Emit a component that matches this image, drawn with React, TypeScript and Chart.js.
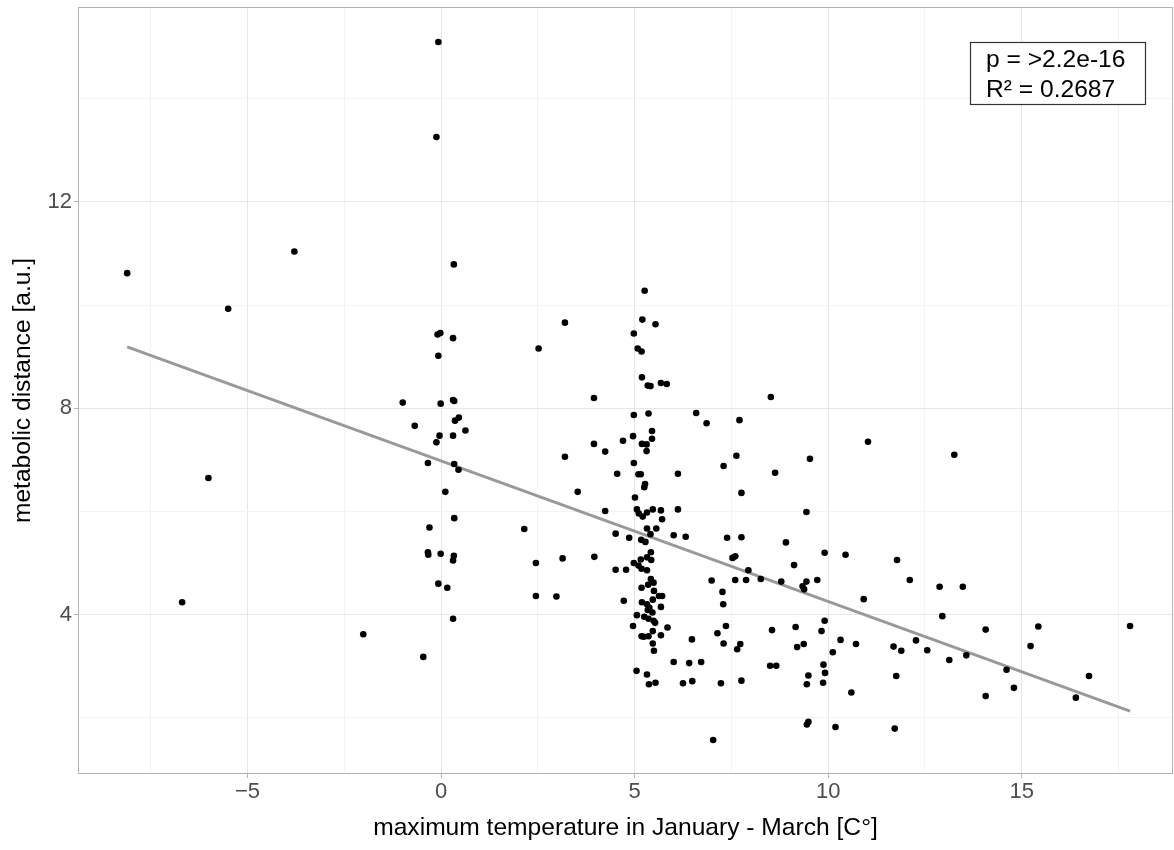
import React, { useEffect, useRef } from 'react';
import { Chart, registerables } from 'chart.js';

Chart.register(...registerables);

// [maximum temperature Jan-Mar (°C), metabolic distance (a.u.)]
const coldSites: number[][] = [
  [-8.11, 10.62], [-6.69, 4.24], [-6.01, 6.65], [-5.5, 9.93], [-3.79, 11.04], [-2.01, 3.62],
];

const zeroSites: number[][] = [
  [-0.07, 15.1], [-0.12, 13.26], [0.33, 10.79], [-0.09, 9.43], [-0.02, 9.46], [0.31, 9.36],
  [-0.07, 9.02], [-0.99, 8.11], [-0.01, 8.09], [0.31, 8.16], [0.34, 8.14], [0.46, 7.82],
  [0.36, 7.76], [-0.68, 7.66], [0.63, 7.57], [-0.04, 7.47], [0.31, 7.47], [-0.12, 7.34],
  [-0.34, 6.94], [0.34, 6.92], [0.45, 6.81], [0.11, 6.38], [0.34, 5.87], [-0.3, 5.69],
  [-0.34, 5.21], [-0.33, 5.16], [-0.01, 5.18], [0.33, 5.14], [0.31, 5.05], [-0.07, 4.6],
  [0.16, 4.52], [0.31, 3.92], [-0.46, 3.18],
];

const mildSites: number[][] = [
  [2.52, 9.16], [3.2, 9.66], [3.95, 8.2], [3.95, 7.31], [3.2, 7.06], [4.24, 7.16],
  [3.53, 6.38], [4.24, 6.01], [2.15, 5.66], [2.45, 5.0], [3.14, 5.09], [3.96, 5.12],
  [2.45, 4.36], [2.98, 4.35], [4.55, 6.73], [4.7, 7.37],
];

const fiveDegreeSites: number[][] = [
  [4.98, 9.45], [5.2, 9.72], [5.26, 10.28], [5.54, 9.63], [5.08, 9.16], [5.18, 9.1],
  [5.19, 8.6], [5.34, 8.44], [5.41, 8.43], [5.68, 8.49], [5.83, 8.47],
  [4.98, 7.87], [5.36, 7.9], [5.45, 7.56], [5.45, 7.41], [4.96, 7.46], [5.19, 7.31],
  [5.31, 7.3], [5.31, 7.17], [4.98, 6.94], [5.1, 6.72], [5.16, 6.72], [5.27, 6.53],
  [5.25, 6.47], [5.01, 6.27], [5.06, 6.04], [5.11, 5.96], [5.21, 5.9], [5.32, 5.98],
  [5.47, 6.04], [5.68, 6.02], [5.71, 5.85], [5.32, 5.67], [5.56, 5.67], [4.51, 5.57],
  [4.86, 5.49], [5.41, 5.56], [5.17, 5.45], [5.28, 5.41], [5.42, 5.21], [5.32, 5.11],
  [5.43, 5.06], [5.16, 5.07], [4.98, 5.0], [5.1, 4.95], [5.18, 4.89], [5.32, 4.86],
  [4.51, 4.87], [4.78, 4.87], [5.42, 4.69], [5.49, 4.62], [5.35, 4.58], [5.18, 4.52],
  [5.5, 4.46], [5.63, 4.36], [5.71, 4.36], [5.47, 4.29], [4.72, 4.27], [5.19, 4.24],
  [5.32, 4.2], [5.68, 4.15], [5.38, 4.13], [5.34, 4.09], [5.46, 4.04], [5.06, 3.99],
  [5.25, 3.96], [5.36, 3.92], [5.49, 3.88], [5.53, 3.84], [4.96, 3.78], [5.85, 3.75],
  [5.47, 3.68], [5.18, 3.58], [5.24, 3.57], [5.36, 3.58], [5.68, 3.6], [5.47, 3.44],
  [5.5, 3.3], [5.05, 2.91], [5.32, 2.84], [5.37, 2.65], [5.54, 2.68],
];

const warmSites: number[][] = [
  [6.59, 7.91], [6.86, 7.71], [7.71, 7.77], [8.52, 8.22], [7.63, 7.08], [7.3, 6.88],
  [6.12, 6.73], [8.63, 6.75], [7.76, 6.36], [6.12, 6.04], [6.01, 5.54], [6.32, 5.51],
  [7.39, 5.49], [7.76, 5.5], [7.53, 5.1], [7.6, 5.13], [7.94, 4.86], [6.99, 4.66],
  [7.6, 4.67], [7.88, 4.67], [8.26, 4.69], [7.27, 4.44], [7.29, 4.2], [7.36, 3.78],
  [7.14, 3.64], [8.55, 3.7], [6.48, 3.52], [7.3, 3.44], [7.73, 3.43], [7.65, 3.33],
  [6.01, 3.08], [6.41, 3.06], [6.72, 3.08], [8.5, 3.01], [8.66, 3.01], [6.25, 2.67],
  [6.49, 2.71], [7.23, 2.67], [7.76, 2.72], [7.03, 1.57],
];

const hotSites: number[][] = [
  [11.03, 7.35], [9.53, 7.02], [9.44, 5.99], [8.91, 5.4], [9.91, 5.2], [10.45, 5.16],
  [11.78, 5.06], [9.12, 4.96], [8.79, 4.64], [9.44, 4.64], [9.72, 4.67], [9.34, 4.55],
  [9.38, 4.49], [12.11, 4.67], [10.92, 4.3], [9.91, 3.88], [9.16, 3.76], [9.83, 3.68],
  [9.2, 3.37], [9.37, 3.43], [10.32, 3.51], [10.72, 3.43], [10.12, 3.27], [11.69, 3.38],
  [11.89, 3.3], [12.27, 3.5], [9.88, 3.03], [9.92, 2.87], [9.49, 2.82], [9.45, 2.65],
  [9.87, 2.68], [11.76, 2.81], [10.6, 2.49], [9.45, 1.87], [9.49, 1.92], [10.19, 1.82],
  [11.72, 1.79],
];

const hottestSites: number[][] = [
  [13.26, 7.1], [12.88, 4.54], [13.48, 4.54], [12.95, 3.97], [14.07, 3.71], [15.43, 3.77],
  [17.8, 3.78], [12.56, 3.31], [13.13, 3.12], [13.57, 3.21], [15.23, 3.39], [14.61, 2.93],
  [14.8, 2.58], [14.07, 2.42], [16.74, 2.81], [16.4, 2.39],
];

const fitTemperature = [-8.11, 17.8];
const fitDistance = [9.19, 2.13];

const xTickValues = [-7.5, -5, -2.5, 0, 2.5, 5, 7.5, 10, 12.5, 15, 17.5];
const yTickValues = [2, 4, 6, 8, 10, 12, 14];
const xRange = [-9.38, 18.91];
const yRange = [0.91, 15.78];

const statLines = ['p = >2.2e-16', 'R\u00B2 = 0.2687'];
const xTitle = 'maximum temperature in January - March [C\u00B0]';
const yTitle = 'metabolic distance [a.u.]';

const FONT = '"Liberation Sans", Arial, Helvetica, sans-serif';

const framePlugin = {
  id: 'frameAndStats',
  afterDatasetsDraw(chart: any) {
    const { ctx, chartArea: a } = chart;
    ctx.save();
    ctx.strokeStyle = '#B3B3B3';
    ctx.lineWidth = 1;
    ctx.strokeRect(a.left + 0.5, a.top + 0.5, a.right - a.left - 1, a.bottom - a.top - 1);

    const bx = a.right - 203;
    const by = a.top + 35;
    ctx.fillStyle = '#FFFFFF';
    ctx.fillRect(bx, by, 175, 62);
    ctx.strokeStyle = '#333333';
    ctx.lineWidth = 1.2;
    ctx.strokeRect(bx + 0.5, by + 0.5, 175, 62);
    ctx.fillStyle = '#000000';
    ctx.font = `24.6px ${FONT}`;
    ctx.textBaseline = 'alphabetic';
    ctx.textAlign = 'left';
    statLines.forEach((line, i) => {
      ctx.fillText(line, bx + 16, by + 25 + i * 30);
    });
    ctx.restore();
  },
};

const toPoints = (rows: number[][]) => rows.map(([x, y]) => ({ x, y }));

export default function App() {
  const canvasRef = useRef<HTMLCanvasElement | null>(null);

  useEffect(() => {
    document.body.style.margin = '0';
    const canvas = canvasRef.current;
    if (!canvas) return;

    const allPoints = [
      ...toPoints(coldSites),
      ...toPoints(zeroSites),
      ...toPoints(mildSites),
      ...toPoints(fiveDegreeSites),
      ...toPoints(warmSites),
      ...toPoints(hotSites),
      ...toPoints(hottestSites),
    ];
    const fitPoints = fitTemperature.map((x, i) => ({ x, y: fitDistance[i] }));

    const chart = new Chart(canvas, {
      type: 'scatter',
      data: {
        datasets: [
          {
            type: 'scatter',
            data: allPoints,
            pointRadius: 3.3,
            pointHoverRadius: 3.3,
            backgroundColor: '#000000',
            borderWidth: 0,
            order: 0,
          },
          {
            type: 'line',
            data: fitPoints,
            showLine: true,
            pointRadius: 0,
            borderColor: '#999999',
            borderWidth: 3,
            fill: false,
            order: 1,
          } as any,
        ],
      },
      options: {
        animation: false,
        responsive: true,
        maintainAspectRatio: false,
        layout: { autoPadding: false, padding: { top: 7, right: 1, left: 0, bottom: 0 } },
        plugins: {
          legend: { display: false },
          tooltip: { enabled: false },
        },
        scales: {
          x: {
            type: 'linear',
            min: xRange[0],
            max: xRange[1],
            afterBuildTicks: (scale: any) => {
              scale.ticks = xTickValues.map((v) => ({ value: v }));
            },
            afterFit: (scale: any) => {
              scale.height = 76;
              scale.paddingLeft = 0;
              scale.paddingRight = 0;
            },
            grid: {
              color: (c: any) => (c.tick && c.tick.value % 5 === 0 ? '#E6E6E6' : '#F3F3F3'),
              tickColor: (c: any) => (c.tick && c.tick.value % 5 === 0 ? '#B3B3B3' : 'rgba(0,0,0,0)'),
              lineWidth: 1,
              tickLength: 4,
              drawTicks: true,
            },
            border: { display: false },
            ticks: {
              autoSkip: false,
              maxRotation: 0,
              padding: 1,
              color: '#4D4D4D',
              font: { size: 22, family: FONT },
              callback: (value: any) => {
                const v = Number(value);
                if (v % 5 !== 0) return '';
                return v < 0 ? '\u2212' + Math.abs(v) : String(v);
              },
            },
            title: {
              display: true,
              text: xTitle,
              color: '#000000',
              font: { size: 24.6, family: FONT },
              padding: { top: 0, bottom: 7 },
            },
          },
          y: {
            type: 'linear',
            min: yRange[0],
            max: yRange[1],
            afterBuildTicks: (scale: any) => {
              scale.ticks = yTickValues.map((v) => ({ value: v }));
            },
            afterFit: (scale: any) => {
              scale.width = 78;
              scale.paddingTop = 0;
              scale.paddingBottom = 0;
            },
            grid: {
              color: (c: any) => (c.tick && c.tick.value % 4 === 0 ? '#E6E6E6' : '#F3F3F3'),
              tickColor: (c: any) => (c.tick && c.tick.value % 4 === 0 ? '#B3B3B3' : 'rgba(0,0,0,0)'),
              lineWidth: 1,
              tickLength: 4,
              drawTicks: true,
            },
            border: { display: false },
            ticks: {
              autoSkip: false,
              padding: 2,
              color: '#4D4D4D',
              font: { size: 22, family: FONT },
              callback: (value: any) => {
                const v = Number(value);
                return v % 4 === 0 ? String(v) : '';
              },
            },
            title: {
              display: true,
              text: yTitle,
              color: '#000000',
              font: { size: 24.6, family: FONT },
              padding: { top: 8, bottom: 0 },
            },
          },
        },
      },
      plugins: [framePlugin],
    });

    return () => {
      chart.destroy();
    };
  }, []);

  return (
    <div style={{ position: 'relative', width: '1174px', height: '850px', background: '#FFFFFF' }}>
      <canvas ref={canvasRef} />
    </div>
  );
}
